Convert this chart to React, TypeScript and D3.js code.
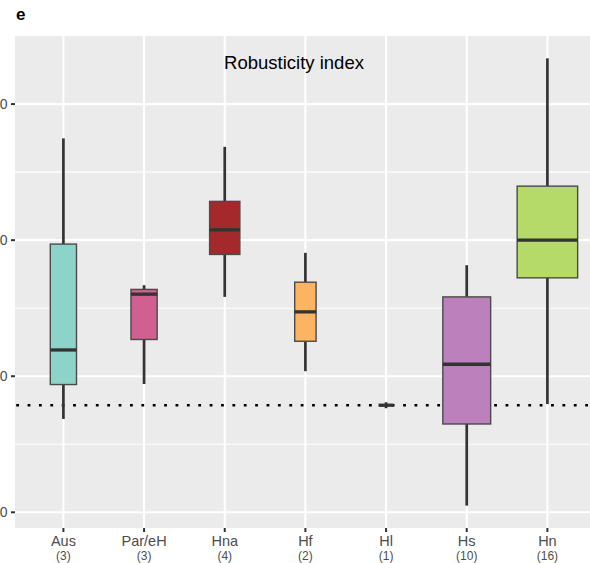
import React, { useEffect, useRef } from 'react';
import * as d3 from 'd3';

const categories = ['Aus', 'Par/eH', 'Hna', 'Hf', 'Hl', 'Hs', 'Hn'];
const counts = [3, 3, 4, 2, 1, 10, 16];
const whiskerLow = [16.86, 19.43, 25.83, 20.37, 17.87, 10.49, 17.96];
const q1 = [19.39, 22.7, 28.95, 22.57, 17.87, 16.49, 27.23];
const median = [21.93, 26.03, 30.76, 24.73, 17.87, 20.88, 30.0];
const q3 = [29.71, 26.38, 32.85, 26.91, 17.87, 25.83, 33.97];
const whiskerHigh = [37.48, 26.69, 36.86, 29.07, 17.87, 28.16, 43.36];
const fills = ['#8DD3C7', '#D0608F', '#A5292B', '#FDB462', '#999999', '#BC80BD', '#B5DA6A'];
const yTicks = [10, 20, 30, 40];
const refValue = 17.87;

const W = 590;
const H = 563;

const App = () => {
  const svgRef = useRef<SVGSVGElement>(null);

  useEffect(() => {
    const svg = d3.select(svgRef.current);
    svg.selectAll('*').remove();

    const panel = { left: 15, top: 36, right: 595.8, bottom: 528 };

    const x = d3.scalePoint<string>()
      .domain(categories)
      .range([panel.left, panel.right])
      .padding(0.6);
    const step = x.step();

    const lo = d3.min(whiskerLow)!;
    const hi = d3.max(whiskerHigh)!;
    const pad = (hi - lo) * 0.05;
    const y = d3.scaleLinear()
      .domain([lo - pad, hi + pad])
      .range([panel.bottom, panel.top]);

    // panel background
    svg.append('rect')
      .attr('x', panel.left)
      .attr('y', panel.top)
      .attr('width', panel.right - panel.left)
      .attr('height', panel.bottom - panel.top)
      .attr('fill', '#EBEBEB');

    // minor grid
    const minor = yTicks.slice(0, -1).map((t, i) => (t + yTicks[i + 1]) / 2);
    svg.selectAll('line.minor')
      .data(minor)
      .join('line')
      .attr('x1', panel.left).attr('x2', panel.right)
      .attr('y1', d => y(d)).attr('y2', d => y(d))
      .attr('stroke', '#fff').attr('stroke-width', 1.1);

    // major grid
    svg.selectAll('line.majY')
      .data(yTicks)
      .join('line')
      .attr('x1', panel.left).attr('x2', panel.right)
      .attr('y1', d => y(d)).attr('y2', d => y(d))
      .attr('stroke', '#fff').attr('stroke-width', 2.1);
    svg.selectAll('line.majX')
      .data(categories)
      .join('line')
      .attr('x1', d => x(d)!).attr('x2', d => x(d)!)
      .attr('y1', panel.top).attr('y2', panel.bottom)
      .attr('stroke', '#fff').attr('stroke-width', 2.1);

    // reference dotted line
    svg.append('line')
      .attr('x1', panel.left).attr('x2', W)
      .attr('y1', y(refValue)).attr('y2', y(refValue))
      .attr('stroke', '#000')
      .attr('stroke-width', 2.5)
      .attr('stroke-dasharray', '2.8 8.58')
      .attr('stroke-dashoffset', -1.2);

    // boxes
    const boxes = svg.append('g');
    categories.forEach((c, i) => {
      const cx = x(c)!;
      const bw = 0.75 * step * Math.sqrt(counts[i] / d3.max(counts)!);
      const g = boxes.append('g');
      g.append('line')
        .attr('x1', cx).attr('x2', cx)
        .attr('y1', y(q3[i])).attr('y2', y(whiskerHigh[i]))
        .attr('stroke', '#333').attr('stroke-width', 2.7);
      g.append('line')
        .attr('x1', cx).attr('x2', cx)
        .attr('y1', y(q1[i])).attr('y2', y(whiskerLow[i]))
        .attr('stroke', '#333').attr('stroke-width', 2.7);
      g.append('rect')
        .attr('x', cx - bw / 2)
        .attr('y', y(q3[i]))
        .attr('width', bw)
        .attr('height', y(q1[i]) - y(q3[i]))
        .attr('fill', fills[i])
        .attr('stroke', '#4a4a4a')
        .attr('stroke-width', 1.4);
      g.append('line')
        .attr('x1', cx - bw / 2).attr('x2', cx + bw / 2)
        .attr('y1', y(median[i])).attr('y2', y(median[i]))
        .attr('stroke', '#333').attr('stroke-width', 3.3);
      if (counts[i] === 1) {
        // single observation: tiny whisker stub
        g.append('line')
          .attr('x1', cx).attr('x2', cx)
          .attr('y1', y(median[i]) - 3).attr('y2', y(median[i]) + 3)
          .attr('stroke', '#333').attr('stroke-width', 2.7);
      }
    });

    // title
    svg.append('text')
      .attr('x', 294)
      .attr('y', 69)
      .attr('text-anchor', 'middle')
      .attr('font-family', 'Liberation Sans, Arial, sans-serif')
      .attr('font-size', 18.5)
      .attr('fill', '#000')
      .text('Robusticity index');

    // y axis (labels cut at the left edge, as in the source image)
    const ya = svg.append('g');
    ya.selectAll('line')
      .data(yTicks)
      .join('line')
      .attr('x1', panel.left - 4).attr('x2', panel.left)
      .attr('y1', d => y(d)).attr('y2', d => y(d))
      .attr('stroke', '#333').attr('stroke-width', 2);
    ya.selectAll('text')
      .data(yTicks)
      .join('text')
      .attr('x', 7.5)
      .attr('y', d => y(d))
      .attr('dy', '0.35em')
      .attr('text-anchor', 'end')
      .attr('font-family', 'Liberation Sans, Arial, sans-serif')
      .attr('font-size', 14)
      .attr('fill', '#4D4D4D')
      .text(d => String(d));

    // x axis
    const xa = svg.append('g');
    xa.selectAll('line')
      .data(categories)
      .join('line')
      .attr('x1', d => x(d)!).attr('x2', d => x(d)!)
      .attr('y1', panel.bottom).attr('y2', panel.bottom + 4)
      .attr('stroke', '#333').attr('stroke-width', 2);
    xa.selectAll('text.cat')
      .data(categories)
      .join('text')
      .attr('class', 'cat')
      .attr('x', d => x(d)!)
      .attr('y', 546)
      .attr('text-anchor', 'middle')
      .attr('font-family', 'Liberation Sans, Arial, sans-serif')
      .attr('font-size', 14.5)
      .attr('fill', '#4D4D4D')
      .text(d => d);
    xa.selectAll('text.n')
      .data(categories)
      .join('text')
      .attr('class', 'n')
      .attr('x', d => x(d)!)
      .attr('y', 559.5)
      .attr('text-anchor', 'middle')
      .attr('font-family', 'Liberation Sans, Arial, sans-serif')
      .attr('font-size', 12)
      .attr('fill', '#4D4D4D')
      .text((d, i) => `(${counts[i]})`);

    // panel tag
    svg.append('text')
      .attr('x', 16)
      .attr('y', 20)
      .attr('font-family', 'Liberation Sans, Arial, sans-serif')
      .attr('font-size', 17)
      .attr('font-weight', 'bold')
      .attr('fill', '#000')
      .text('e');
  }, []);

  return (
    <svg
      ref={svgRef}
      width={W}
      height={H}
      style={{ position: 'absolute', left: 0, top: 0, background: '#fff' }}
    />
  );
};

export default App;
